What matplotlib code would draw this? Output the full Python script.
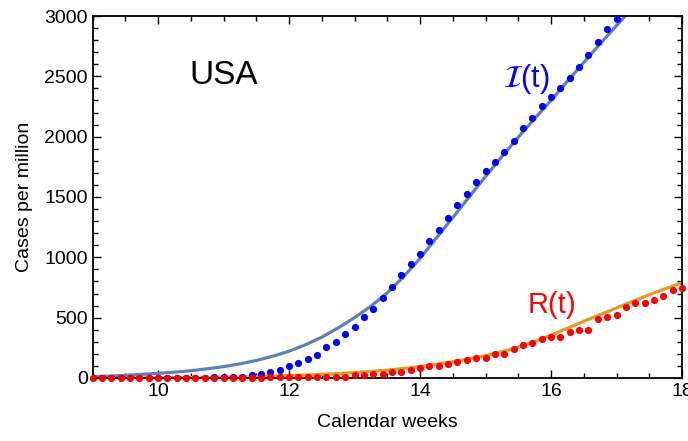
import numpy as np
import matplotlib
matplotlib.use("Agg")
import matplotlib.pyplot as plt
from matplotlib.ticker import MultipleLocator

plt.rcParams['font.family'] = ['Liberation Sans', 'DejaVu Sans']
plt.rcParams['mathtext.fontset'] = 'stix'

# daily data, day index k -> calendar week 9 + k/7
infected = [1, 1, 1, 1, 1, 2, 2, 2, 2, 3, 3,
            3, 3, 4, 4, 5, 6,
            22, 36, 52, 66, 97, 124, 160, 191, 255, 300, 365, 424, 505, 568,
            665, 757, 851, 946, 1025, 1135, 1229, 1323, 1434, 1527, 1622, 1715,
            1793, 1873, 1967, 2072, 2157, 2252, 2329, 2406, 2486, 2580, 2674,
            2784, 2895, 2973]
recovered = [0, 0, 0, 0, 0, 0, 0, 0, 0, 1, 1, 1, 1, 1, 1, 2, 2,
             3, 3, 4, 5, 5, 6, 7, 9, 10, 10, 11, 21, 21, 37, 36, 52, 52, 69,
             85, 101, 101, 116, 133, 147, 164, 164, 195, 195, 242, 272, 290,
             321, 337, 337, 379, 398, 398, 491, 508, 525, 586, 619, 619, 649,
             680, 727, 743]
start_week = 9

# model curves
fit_weeks = [9, 9.25, 9.5, 9.75, 10, 10.25, 10.5, 10.75, 11, 11.25, 11.5,
             11.75, 12, 12.25, 12.5, 12.75, 13, 13.25, 13.5, 13.75, 14, 14.25,
             14.5, 14.75, 15, 15.25, 15.5, 15.75, 16, 16.25, 16.5, 16.75, 17,
             17.25, 17.5, 17.75, 18]
fit_infected = [11, 16, 22, 30, 39, 48, 60, 76, 94, 117, 145, 180, 222, 275,
                338, 415, 500, 595, 705, 840, 990, 1160, 1330, 1500, 1670,
                1835, 1995, 2150, 2300, 2460, 2615, 2770, 2920, 3070, 3220,
                3370, 3520]
fit_recovered = [0, 0.5, 1, 1.5, 2, 3, 4, 5.5, 7, 9, 12, 16, 20, 25, 30, 37,
                 45, 54, 65, 79, 95, 114, 135, 158, 185, 218, 255, 302, 355,
                 412, 470, 525, 580, 635, 690, 740, 790]

t_inf = start_week + np.arange(len(infected)) / 7.0
t_rec = start_week + np.arange(len(recovered)) / 7.0

fig = plt.figure(figsize=(6.88, 4.41), dpi=100)
ax = fig.add_axes([0.1345, 0.1429, 0.9913 - 0.1345, 0.9637 - 0.1429])

ax.plot(fit_weeks, fit_recovered, color='#E19C24', lw=2.3, zorder=2, solid_capstyle='butt')
ax.plot(fit_weeks, fit_infected, color='#5E81B5', lw=2.3, zorder=2, solid_capstyle='butt')
ax.plot(t_inf, infected, 'o', color='#0000FF', ms=5.2, mew=0, zorder=3)
ax.plot(t_rec, recovered, 'o', color='#FF0000', ms=5.2, mew=0, zorder=4, clip_on=False)

ax.set_xlim(9, 18)
ax.set_ylim(0, 3000)
ax.xaxis.set_major_locator(MultipleLocator(2))
ax.xaxis.set_minor_locator(MultipleLocator(0.5))
ax.yaxis.set_major_locator(MultipleLocator(500))
ax.yaxis.set_minor_locator(MultipleLocator(100))
ax.tick_params(which='both', direction='in', top=True, right=True, labelsize=14,
               width=1.0, color='black')
ax.tick_params(which='major', length=6)
ax.tick_params(which='minor', length=3.5)
for s in ax.spines.values():
    s.set_linewidth(1.3)
    s.set_color('black')

ax.set_xlabel('Calendar weeks', fontsize=14, labelpad=10)
ax.set_ylabel('Cases per million', fontsize=14, labelpad=8)

ax.text(11.0, 2510, 'USA', fontsize=24, ha='center', va='center')
ax.text(15.62, 2480, r'$\mathcal{I}$(t)', fontsize=22, ha='center', va='center', color='#0000FF')
ax.text(16.02, 605, 'R(t)', fontsize=21, ha='center', va='center', color='#FF0000')

fig.savefig('out.png', dpi=100)
